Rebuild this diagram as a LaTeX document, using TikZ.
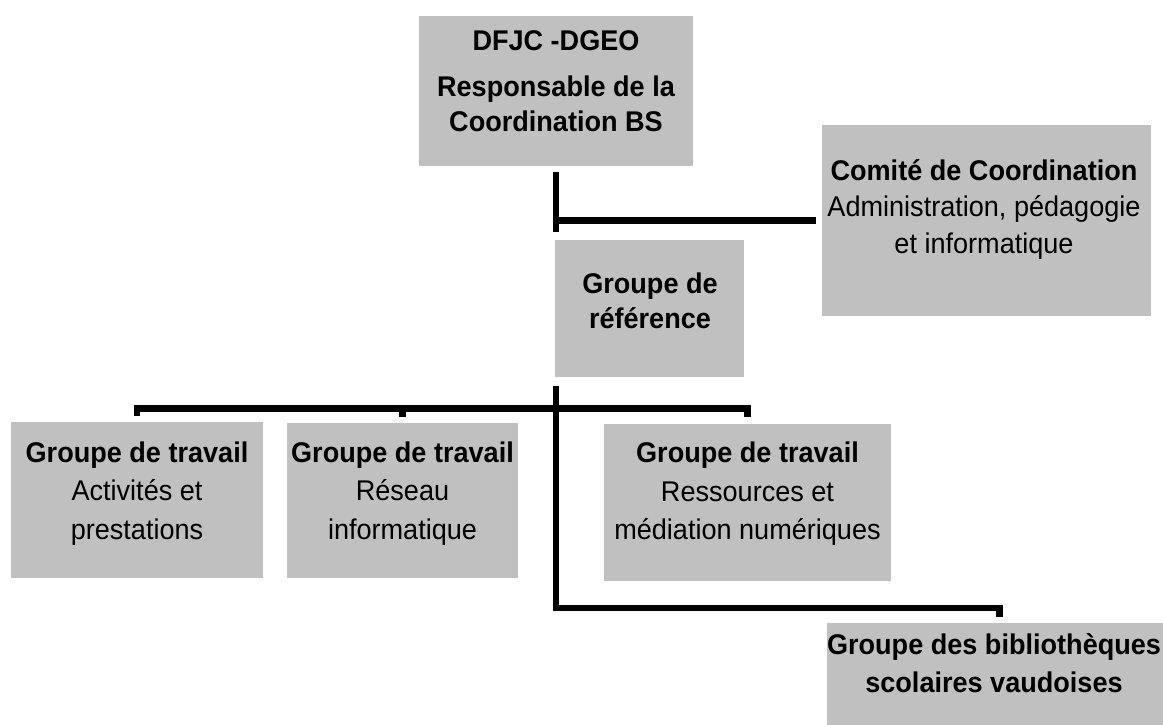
\documentclass[tikz,border=0pt]{standalone}
\usepackage{fontspec}
\setmainfont{Liberation Sans}[FakeStretch=0.95]
\usetikzlibrary{calc}
\definecolor{boxgray}{RGB}{192,192,192}
\newcommand{\myst}{\rule{0pt}{22pt}}
\begin{document}
\begin{tikzpicture}[x=1pt,y=-1pt,
  box/.style={fill=boxgray, draw=none, inner sep=0pt, outer sep=0pt},
  txt/.style={align=center, inner sep=0pt, outer sep=0pt, anchor=north, text=black},
  conn/.style={line width=6.5pt, draw=black, line join=miter}]
\clip (0,0) rectangle (1163,725);
\fill[white] (0,0) rectangle (1163,725);

% boxes
\node[box, minimum width=274pt, minimum height=150pt] (top) at (556,91) {};
\node[box, minimum width=329pt, minimum height=191pt] (comite) at (986.5,220.5) {};
\node[box, minimum width=189pt, minimum height=137pt] (ref) at (649.5,308.5) {};
\node[box, minimum width=252pt, minimum height=156pt] (g1) at (137,500) {};
\node[box, minimum width=231pt, minimum height=155pt] (g2) at (402.5,500.5) {};
\node[box, minimum width=287pt, minimum height=157pt] (g3) at (747.5,502.5) {};
\node[box, minimum width=345pt, minimum height=107pt] (bib) at (999.5,676.5) {};

% texts
\node[txt, font=\fontsize{28.5}{35}\selectfont\bfseries] (toptxt) at (556,28)
  {\myst DFJC -DGEO\\[11.7pt]Responsable de la\\Coordination BS};
\node[txt, font=\fontsize{28.5}{36.5}\selectfont] (comtxt) at (984,158)
  {\myst{\bfseries Comité de Coordination}\\Administration, pédagogie\\et informatique};
\node[txt, font=\fontsize{28.5}{35}\selectfont\bfseries] (reftxt) at (650,271)
  {\myst Groupe de\\référence};
\node[txt, font=\fontsize{28.5}{38.5}\selectfont] (g1txt) at (137,440)
  {\myst{\bfseries Groupe de travail}\\Activités et\\prestations};
\node[txt, font=\fontsize{28.5}{38.5}\selectfont] (g2txt) at (402.5,440)
  {\myst{\bfseries Groupe de travail}\\Réseau\\informatique};
\node[txt, font=\fontsize{28.5}{38.5}\selectfont] (g3txt) at (747.5,440.7)
  {\myst{\bfseries Groupe de travail}\\Ressources et\\médiation numériques};
\node[txt, font=\fontsize{28.5}{38}\selectfont\bfseries] (bibtxt) at (994,632)
  {\myst Groupe des bibliothèques\\scolaires vaudoises};

% connectors
\coordinate (bar) at (0,408.5);
\coordinate (trunk) at (top.south |- ref.south);
\draw[conn] ([yshift=-6pt]top.south) -- ([yshift=-66pt]top.south);
\draw[conn] (top.south |- comite.west) -- ([xshift=-6pt]comite.west);
\draw[conn] ([yshift=-9pt]trunk) |- ([yshift=15pt]bib.north) -- ([yshift=6pt]bib.north);
\draw[conn] ([yshift=6pt]g1.north) -- (g1.north |- bar) -- (g3.north |- bar) -- ([yshift=7pt]g3.north);
\draw[conn] (g2.north |- bar) -- ([yshift=6pt]g2.north);
\end{tikzpicture}
\end{document}
